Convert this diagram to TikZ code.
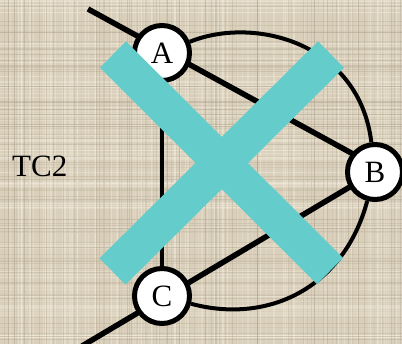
\documentclass[tikz,border=0pt]{standalone}
\usepackage{fontspec}
\setmainfont{Liberation Serif}
\definecolor{linen}{RGB}{217,207,186}
\definecolor{weftlight}{RGB}{240,234,218}
\definecolor{weftdark}{RGB}{176,164,142}
\definecolor{crossbar}{RGB}{100,205,204}
\pgfdeclarelayer{back}
\pgfsetlayers{back,main}
\begin{document}
\begin{tikzpicture}[x=1pt,y=1pt,
  vertex/.style={circle,draw=black,line width=5pt,fill=white,
    minimum size=55pt,inner sep=0pt,font=\fontsize{31}{31}\selectfont},
  edge/.style={line width=5.5pt},
  thinedge/.style={line width=4pt},
  bar/.style={line width=37pt,draw=crossbar},
  thread/.style={line width=1pt}]
\useasboundingbox (0,0) rectangle (402,-344);

% vertices
\node[vertex] (A) at (162,-53) {A};
\node[vertex] (B) at (375,-172) {B};
\node[vertex] (C) at (162,-296) {C};

% free ends of the two long lines
\coordinate (top) at (88,-9);
\coordinate (bottom) at (82,-346);

\node[anchor=base west,inner sep=0pt,font=\fontsize{31}{31}\selectfont]
  (label) at (12,-177) {TC2};

\begin{pgfonlayer}{back}
  % woven linen backdrop
  \fill[linen] (0,0) rectangle (402,-344);
  \pgfmathsetseed{31}
  \begin{scope}
    \clip (0,0) rectangle (402,-344);
    \foreach \k in {1,...,110}{
      \pgfmathsetmacro{\yy}{-rnd*344}
      \pgfmathsetmacro{\op}{0.25+0.35*rnd}
      \draw[thread,weftlight,opacity=\op] (0,\yy) -- (402,\yy);
    }
    \foreach \k in {1,...,130}{
      \pgfmathsetmacro{\xx}{rnd*402}
      \pgfmathsetmacro{\op}{0.25+0.35*rnd}
      \draw[thread,weftlight,opacity=\op] (\xx,0) -- (\xx,-344);
    }
    \foreach \k in {1,...,90}{
      \pgfmathsetmacro{\yy}{-rnd*344}
      \pgfmathsetmacro{\op}{0.15+0.25*rnd}
      \draw[thread,weftdark,opacity=\op] (0,\yy) -- (402,\yy);
    }
    \foreach \k in {1,...,90}{
      \pgfmathsetmacro{\xx}{rnd*402}
      \pgfmathsetmacro{\op}{0.15+0.25*rnd}
      \draw[thread,weftdark,opacity=\op] (\xx,0) -- (\xx,-344);
    }
  \end{scope}
  % edges of the graph
  \draw[edge] (top) -- ([yshift=6pt]B.center);
  \draw[edge] (bottom) -- (B.center);
  \draw[thinedge] (A) -- (C);
  \draw[thinedge] (A) to[out=22,in=97,out distance=70,in distance=100] (B);
  \draw[thinedge] (C) to[out=-15,in=-105,out distance=80,in distance=90] (B);
\end{pgfonlayer}

% the cross laid over the graph
\draw[bar] (113,-54.5) -- (330,-271);
\draw[bar] (112.5,-271.5) -- (331,-54.5);
\end{tikzpicture}
\end{document}
